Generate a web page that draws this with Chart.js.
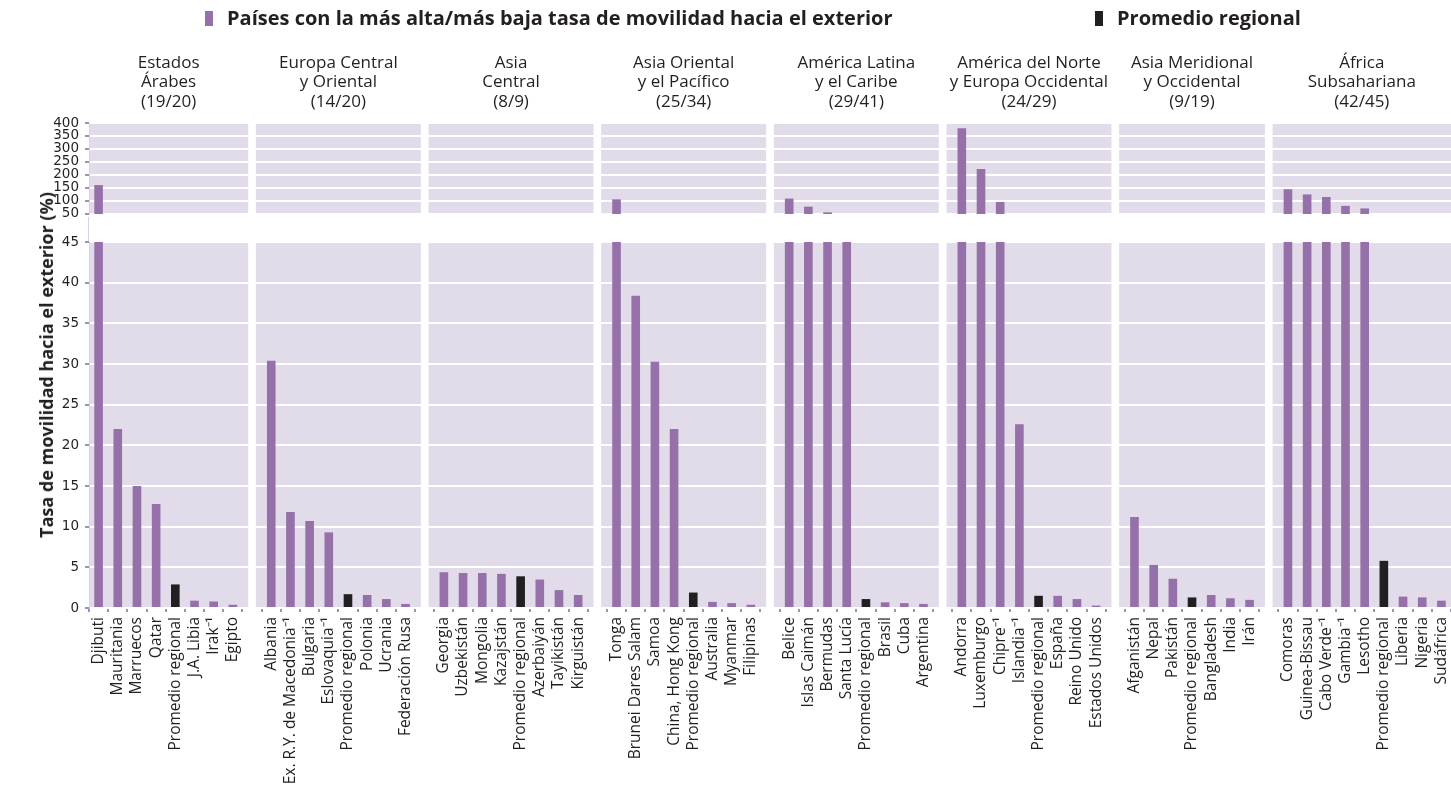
<!DOCTYPE html>
<html lang="es">
<head>
<meta charset="UTF-8">
<title>Tasa de movilidad hacia el exterior</title>
<script src="https://cdn.jsdelivr.net/npm/chart.js"></script>
<style>
  body { margin: 0; background: #fff; font-family: "Open Sans", sans-serif; color: #231f20; }
  .page { position: relative; width: 1451px; height: 795px; overflow: hidden; }
  .box-upper { position: absolute; left: 0; top: 0; width: 1451px; height: 228px; }
  .box-lower { position: absolute; left: 0; top: 228px; width: 1451px; height: 567px; }
  .legend { position: absolute; top: 4px; font-weight: 700; font-size: 20px; white-space: nowrap; line-height: 28px; }
  .legend i { display: inline-block; width: 8px; height: 15px; margin-right: 14px; vertical-align: -1px; }
  .ytitle { position: absolute; left: 46px; top: 365px; transform: translate(-50%, -50%) rotate(-90deg);
            font-weight: 700; font-size: 18px; white-space: nowrap; }
  .axisgap { position: absolute; left: 88px; top: 217px; width: 1px; height: 24px; background: #d9d2e3; }
</style>
</head>
<body>
<div class="page">
  <div class="box-upper"><canvas id="upper"></canvas></div>
  <div class="box-lower"><canvas id="lower"></canvas></div>
  <div class="axisgap"></div>
  <div class="legend" style="left:205px"><i style="background:#9570a9"></i>Países con la más alta/más baja tasa de movilidad hacia el exterior</div>
  <div class="legend" style="left:1095px"><i style="background:#231f20"></i>Promedio regional</div>
  <div class="ytitle">Tasa de movilidad hacia el exterior (%)</div>
</div>
<script>
// region titles (three lines each)
const regionTitles = [
  ['Estados', 'Árabes', '(19/20)'],
  ['Europa Central', 'y Oriental', '(14/20)'],
  ['Asia', 'Central', '(8/9)'],
  ['Asia Oriental', 'y el Pacífico', '(25/34)'],
  ['América Latina', 'y el Caribe', '(29/41)'],
  ['América del Norte', 'y Europa Occidental', '(24/29)'],
  ['Asia Meridional', 'y Occidental', '(9/19)'],
  ['África', 'Subsahariana', '(42/45)']
];

const arabStates = ['Djibuti', 'Mauritania', 'Marruecos', 'Qatar', 'Promedio regional', 'J.A. Libia', 'Irak⁻¹', 'Egipto'];
const arabStatesRate = [161, 22.0, 15.0, 12.8, 2.9, 0.9, 0.8, 0.4];

const centralEastEurope = ['Albania', 'Ex. R.Y. de Macedonia⁻¹', 'Bulgaria', 'Eslovaquia⁻¹', 'Promedio regional', 'Polonia', 'Ucrania', 'Federación Rusa'];
const centralEastEuropeRate = [30.4, 11.8, 10.7, 9.3, 1.7, 1.6, 1.1, 0.5];

const centralAsia = ['Georgia', 'Uzbekistán', 'Mongolia', 'Kazajstán', 'Promedio regional', 'Azerbaiyán', 'Tayikistán', 'Kirguistán'];
const centralAsiaRate = [4.4, 4.3, 4.3, 4.2, 3.9, 3.5, 2.2, 1.6];

const eastAsiaPacific = ['Tonga', 'Brunei Dares Salam', 'Samoa', 'China, Hong Kong', 'Promedio regional', 'Australia', 'Myanmar', 'Filipinas'];
const eastAsiaPacificRate = [106, 38.4, 30.3, 22.0, 1.9, 0.75, 0.6, 0.4];

const latinAmerica = ['Belice', 'Islas Caimán', 'Bermudas', 'Santa Lucía', 'Promedio regional', 'Brasil', 'Cuba', 'Argentina'];
const latinAmericaRate = [109, 78, 56, 47, 1.1, 0.7, 0.6, 0.5];

const northAmericaWestEurope = ['Andorra', 'Luxemburgo', 'Chipre⁻¹', 'Islandia⁻¹', 'Promedio regional', 'España', 'Reino Unido', 'Estados Unidos'];
const northAmericaWestEuropeRate = [380, 223, 96, 22.6, 1.5, 1.5, 1.1, 0.3];

const southWestAsia = ['Afganistán', 'Nepal', 'Pakistán', 'Promedio regional', 'Bangladesh', 'India', 'Irán'];
const southWestAsiaRate = [11.2, 5.3, 3.6, 1.3, 1.6, 1.2, 1.0];

const subSaharanAfrica = ['Comoras', 'Guinea-Bissau', 'Cabo Verde⁻¹', 'Gambia⁻¹', 'Lesotho', 'Promedio regional', 'Liberia', 'Nigeria', 'Sudáfrica'];
const subSaharanAfricaRate = [145, 125, 115, 81, 71, 5.8, 1.4, 1.3, 0.9];

const lowerTicks = { min: 0, max: 45, step: 5 };
const upperTicks = { min: 50, max: 400, step: 50 };

const PURPLE = '#9570a9';
const BLACK = '#231f20';
const PANEL = '#e2dcea';
const TICK = '#a88cbb';
const TEXT = '#231f20';

// build one category axis, with an empty slot between regions
const groups = [
  [arabStates, arabStatesRate], [centralEastEurope, centralEastEuropeRate],
  [centralAsia, centralAsiaRate], [eastAsiaPacific, eastAsiaPacificRate],
  [latinAmerica, latinAmericaRate], [northAmericaWestEurope, northAmericaWestEuropeRate],
  [southWestAsia, southWestAsiaRate], [subSaharanAfrica, subSaharanAfricaRate]
];
const labels = [], countryData = [], averageData = [], panels = [];
groups.forEach(([names, rates], g) => {
  if (g > 0) { labels.push(''); countryData.push(null); averageData.push(null); }
  const start = labels.length;
  names.forEach((n, i) => {
    labels.push(n);
    const avg = n === 'Promedio regional';
    countryData.push(avg ? null : rates[i]);
    averageData.push(avg ? rates[i] : null);
  });
  panels.push({ start, end: labels.length - 1, title: regionTitles[g] });
});

function panelEdges(chart, p) {
  const { chartArea: a, scales: { x } } = chart;
  const step = x.getPixelForValue(1) - x.getPixelForValue(0);
  const l = Math.max(a.left, x.getPixelForValue(p.start) - step * 0.8);
  const r = Math.min(a.right, x.getPixelForValue(p.end) + step * 0.8);
  return [l, r];
}

// light purple panel behind each region
const panelBg = {
  id: 'panelBg',
  beforeDraw(chart) {
    const { ctx, chartArea: a } = chart;
    ctx.save();
    ctx.fillStyle = PANEL;
    panels.forEach(p => {
      const [l, r] = panelEdges(chart, p);
      ctx.fillRect(l, a.top, r - l, a.bottom - a.top);
    });
    ctx.restore();
  }
};

const panelTitles = {
  id: 'panelTitles',
  afterDraw(chart) {
    const { ctx } = chart;
    ctx.save();
    ctx.fillStyle = TEXT;
    ctx.font = '17px "Open Sans"';
    ctx.textAlign = 'center';
    ctx.textBaseline = 'middle';
    panels.forEach(p => {
      const [l, r] = panelEdges(chart, p);
      p.title.forEach((t, k) => ctx.fillText(t, (l + r) / 2, 63 + k * 19.5));
    });
    ctx.restore();
  }
};

const yTickFont = { family: 'DejaVu Sans', size: 13.5 };

function yScale(range) {
  return {
    min: range.min, max: range.max,
    ticks: { stepSize: range.step, autoSkip: false, color: TEXT, font: yTickFont, padding: 6 },
    grid: { color: '#ffffff', lineWidth: 2, tickColor: TICK, tickLength: 4, tickWidth: 2 },
    border: { display: true, color: '#d9d2e3', width: 1 },
    afterFit(s) { s.width = 89; }
  };
}

const barDefaults = { grouped: false, barPercentage: 0.45, categoryPercentage: 1, clip: 0 };

new Chart(document.getElementById('upper'), {
  type: 'bar',
  data: {
    labels,
    datasets: [{
      ...barDefaults,
      label: 'Países con la más alta/más baja tasa de movilidad hacia el exterior',
      data: countryData.map(v => v !== null && v > upperTicks.min ? v : null),
      backgroundColor: PURPLE
    }]
  },
  options: {
    responsive: true, maintainAspectRatio: false, animation: false,
    layout: { padding: { top: 123, bottom: 11, left: 0, right: 0 } },
    plugins: { legend: { display: false }, tooltip: { enabled: false } },
    scales: { x: { display: false }, y: yScale(upperTicks) }
  },
  plugins: [panelBg, panelTitles]
});

new Chart(document.getElementById('lower'), {
  type: 'bar',
  data: {
    labels,
    datasets: [{
      ...barDefaults,
      label: 'Países con la más alta/más baja tasa de movilidad hacia el exterior',
      data: countryData,
      backgroundColor: PURPLE
    }, {
      ...barDefaults,
      label: 'Promedio regional',
      data: averageData,
      backgroundColor: BLACK
    }]
  },
  options: {
    responsive: true, maintainAspectRatio: false, animation: false,
    layout: { padding: { top: 13, bottom: 0, left: 0, right: 0 } },
    plugins: { legend: { display: false }, tooltip: { enabled: false } },
    scales: {
      x: {
        grid: { display: true, drawOnChartArea: false, offset: true, color: TICK, tickColor: TICK, tickLength: 4, lineWidth: 2, tickWidth: 2 },
        border: { display: false },
        ticks: { autoSkip: false, minRotation: 90, maxRotation: 90, padding: 5, color: TEXT, font: { family: 'Open Sans', size: 15.5 } },
        afterFit(s) { s.height = 187; s.paddingLeft = 0; s.paddingRight = 0; }
      },
      y: yScale(lowerTicks)
    }
  },
  plugins: [panelBg]
});
</script>
</body>
</html>
